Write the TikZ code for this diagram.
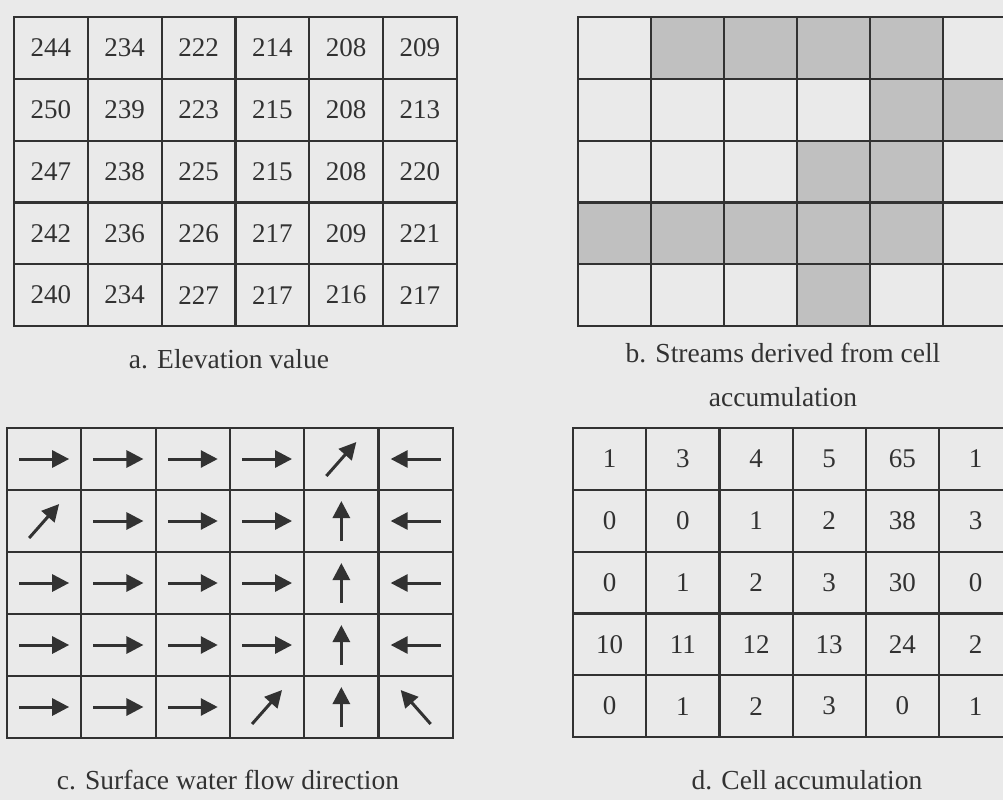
\documentclass[tikz,border=0pt]{standalone}
\usepackage{fontspec}
\setmainfont{Liberation Serif}
\usetikzlibrary{arrows.meta}
\definecolor{bg}{RGB}{234,234,234}
\definecolor{ink}{RGB}{50,50,50}
\definecolor{sh}{RGB}{192,192,192}
\begin{document}
\begin{tikzpicture}[x=1pt,y=-1pt,
  cell/.style={draw=ink, line width=2.2pt, rectangle, inner sep=0pt, text=ink,
    font=\fontsize{27}{30}\selectfont},
  captext/.style={text=ink, font=\fontsize{27.5}{44}\selectfont, inner sep=0pt, align=center},
  flow/.style={draw=ink, line width=3pt, -{Triangle[length=17pt,width=17pt]}},
  ]
\useasboundingbox (0,0) rectangle (1003,800);
\clip (0,0) rectangle (1003,800);
\fill[bg] (0,0) rectangle (1003,800);

% a. Elevation value
\foreach \r/\vals in {0/{244,234,222,214,208,209},1/{250,239,223,215,208,213},
  2/{247,238,225,215,208,220},3/{242,236,226,217,209,221},4/{240,234,227,217,216,217}}{
  \foreach \v [count=\c from 0] in \vals {
    \node[cell, minimum width=73.8pt, minimum height=61.8pt]
      (a-\r-\c) at ({14+73.8*(\c+0.5)},{17+61.8*(\r+0.5)}) {\v};
  }
}
\node[captext] (capa) at (229,359) {a. Elevation value};

% b. Streams
\foreach \r/\vals in {0/{bg,sh,sh,sh,sh,bg},1/{bg,bg,bg,bg,sh,sh},
  2/{bg,bg,bg,sh,sh,bg},3/{sh,sh,sh,sh,sh,bg},4/{bg,bg,bg,sh,bg,bg}}{
  \foreach \v [count=\c from 0] in \vals {
    \node[cell, fill=\v, minimum width=73pt, minimum height=61.8pt]
      (b-\r-\c) at ({578+73*(\c+0.5)},{17+61.8*(\r+0.5)}) {};
  }
}
\node[captext] (capb) at (783,375) {b. Streams derived from cell\\accumulation};

% c. Flow direction
\foreach \r/\vals in {0/{25/0,25/0,25/0,25/0,15/17,-25/0},
  1/{15/17,25/0,25/0,25/0,0/20,-25/0},
  2/{25/0,25/0,25/0,25/0,0/20,-25/0},
  3/{25/0,25/0,25/0,25/0,0/20,-25/0},
  4/{25/0,25/0,25/0,15/17,0/20,-15/17}}{
  \foreach \dx/\dy [count=\c from 0] in \vals {
    \node[cell, minimum width=74.3pt, minimum height=62pt]
      (c-\r-\c) at ({7+74.3*(\c+0.5)},{428+62*(\r+0.5)}) {};
    \draw[flow] ([xshift={-(\dx)*1pt}, yshift={-(\dy)*1pt}]c-\r-\c.center)
      -- ([xshift={(\dx)*1pt}, yshift={(\dy)*1pt}]c-\r-\c.center);
  }
}
\node[captext] (capc) at (228,780) {c. Surface water flow direction};

% d. Cell accumulation
\foreach \r/\vals in {0/{1,3,4,5,65,1},1/{0,0,1,2,38,3},2/{0,1,2,3,30,0},
  3/{10,11,12,13,24,2},4/{0,1,2,3,0,1}}{
  \foreach \v [count=\c from 0] in \vals {
    \node[cell, minimum width=73.2pt, minimum height=61.8pt]
      (d-\r-\c) at ({573+73.2*(\c+0.5)},{428+61.8*(\r+0.5)}) {\v};
  }
}
\node[captext] (capd) at (807,780) {d. Cell accumulation};
\end{tikzpicture}
\end{document}
